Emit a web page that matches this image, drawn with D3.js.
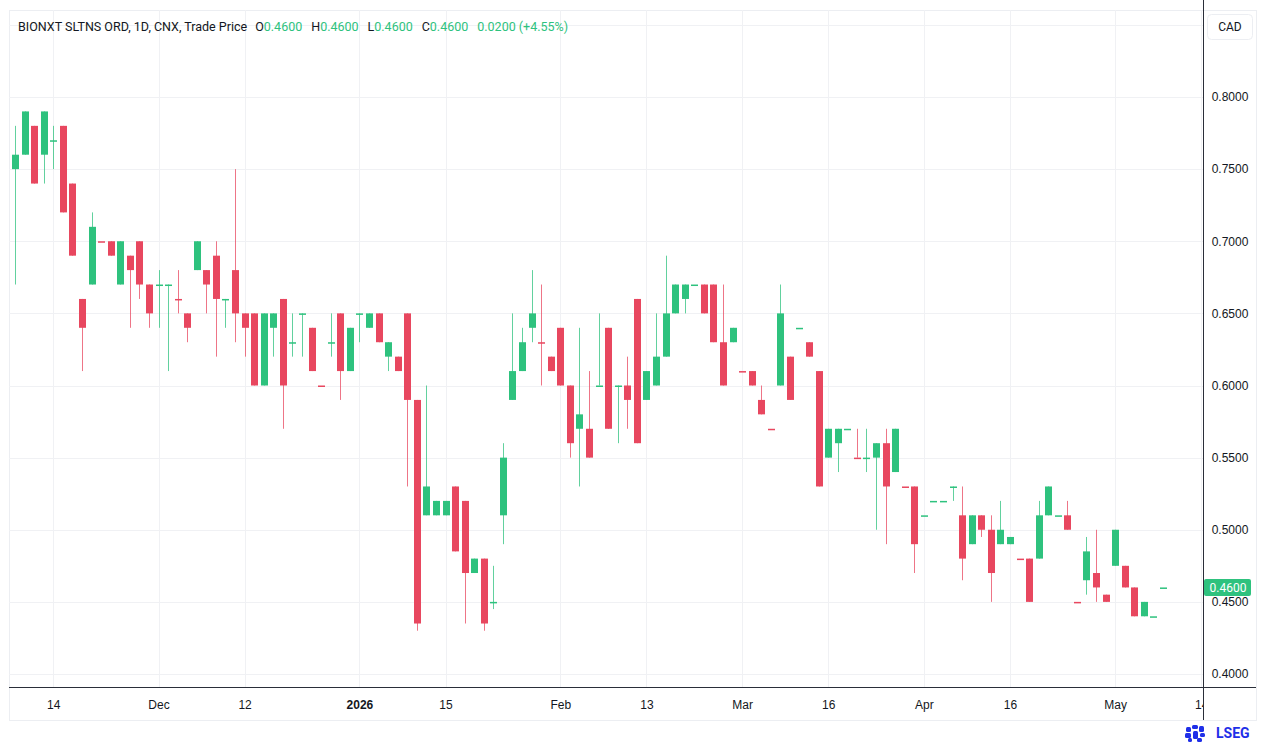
<!DOCTYPE html>
<html>
<head>
<meta charset="utf-8">
<script src="https://cdn.jsdelivr.net/npm/d3@7"></script>
<style>
  body { margin: 0; background: #fff; }
  svg { font-family: Roboto, "Noto Sans", sans-serif; }
</style>
</head>
<body>
<svg id="chart" width="1266" height="744"></svg>
<script>
// daily bars, BIONXT SLTNS ORD (CNX), 10 Nov 2025 .. 11 May 2026 (one entry per trading bar)
let opens = [
	0.75, 0.76, 0.78, 0.76, 0.77, 0.78, 0.74, 0.66, 0.67, 0.70,
	0.70, 0.67, 0.69, 0.70, 0.67, 0.67, 0.67, 0.66, 0.65, 0.68,
	0.68, 0.69, 0.66, 0.68, 0.65, 0.65, 0.60, 0.64, 0.66, 0.63,
	0.65, 0.64, 0.60, 0.63, 0.65, 0.61, 0.65, 0.64, 0.65, 0.62,
	0.62, 0.65, 0.59, 0.51, 0.51, 0.51, 0.53, 0.52, 0.47, 0.48,
	0.45, 0.51, 0.59, 0.61, 0.64, 0.63, 0.62, 0.64, 0.60, 0.57,
	0.57, 0.60, 0.64, 0.60, 0.60, 0.66, 0.59, 0.60, 0.62, 0.65,
	0.66, 0.67, 0.67, 0.67, 0.63, 0.63, 0.61, 0.61, 0.59, 0.57,
	0.60, 0.62, 0.64, 0.63, 0.61, 0.55, 0.56, 0.57, 0.55, 0.55,
	0.55, 0.56, 0.54, 0.53, 0.53, 0.51, 0.52, 0.52, 0.53, 0.51,
	0.49, 0.51, 0.50, 0.49, 0.49, 0.48, 0.48, 0.48, 0.51, 0.51,
	0.51, 0.45, 0.465, 0.47, 0.455, 0.475, 0.475, 0.46, 0.44, 0.44,
	0.46
];
let highs = [
	0.78, 0.79, 0.78, 0.79, 0.78, 0.78, 0.74, 0.66, 0.72, 0.70,
	0.70, 0.70, 0.69, 0.70, 0.67, 0.68, 0.67, 0.68, 0.65, 0.70,
	0.68, 0.70, 0.66, 0.75, 0.65, 0.65, 0.65, 0.65, 0.66, 0.65,
	0.65, 0.64, 0.60, 0.65, 0.65, 0.64, 0.65, 0.65, 0.65, 0.63,
	0.62, 0.65, 0.59, 0.60, 0.52, 0.52, 0.53, 0.52, 0.48, 0.48,
	0.475, 0.56, 0.65, 0.64, 0.68, 0.67, 0.62, 0.64, 0.60, 0.64,
	0.61, 0.65, 0.64, 0.60, 0.62, 0.66, 0.61, 0.65, 0.69, 0.67,
	0.67, 0.67, 0.67, 0.67, 0.67, 0.64, 0.61, 0.61, 0.60, 0.57,
	0.67, 0.62, 0.64, 0.63, 0.61, 0.57, 0.57, 0.57, 0.57, 0.57,
	0.56, 0.57, 0.57, 0.53, 0.53, 0.51, 0.52, 0.52, 0.53, 0.53,
	0.51, 0.51, 0.51, 0.52, 0.495, 0.48, 0.48, 0.52, 0.53, 0.51,
	0.52, 0.45, 0.495, 0.50, 0.455, 0.50, 0.475, 0.46, 0.45, 0.44,
	0.46
];
let lows = [
	0.67, 0.76, 0.74, 0.74, 0.75, 0.72, 0.69, 0.61, 0.67, 0.70,
	0.69, 0.67, 0.64, 0.66, 0.64, 0.64, 0.61, 0.65, 0.63, 0.68,
	0.65, 0.62, 0.64, 0.63, 0.62, 0.60, 0.60, 0.62, 0.57, 0.62,
	0.62, 0.61, 0.60, 0.62, 0.59, 0.61, 0.63, 0.64, 0.63, 0.61,
	0.61, 0.53, 0.43, 0.51, 0.51, 0.51, 0.485, 0.435, 0.47, 0.43,
	0.445, 0.49, 0.59, 0.61, 0.63, 0.60, 0.61, 0.60, 0.55, 0.53,
	0.55, 0.60, 0.57, 0.56, 0.57, 0.56, 0.59, 0.60, 0.62, 0.65,
	0.65, 0.67, 0.65, 0.63, 0.60, 0.63, 0.61, 0.60, 0.58, 0.57,
	0.60, 0.59, 0.64, 0.62, 0.53, 0.55, 0.54, 0.57, 0.55, 0.54,
	0.50, 0.49, 0.54, 0.53, 0.47, 0.51, 0.52, 0.52, 0.52, 0.465,
	0.49, 0.495, 0.45, 0.49, 0.49, 0.48, 0.45, 0.48, 0.51, 0.51,
	0.50, 0.45, 0.455, 0.45, 0.45, 0.475, 0.46, 0.44, 0.44, 0.44,
	0.46
];
let closes = [
	0.76, 0.79, 0.74, 0.79, 0.77, 0.72, 0.69, 0.64, 0.71, 0.70,
	0.69, 0.70, 0.68, 0.67, 0.65, 0.67, 0.67, 0.66, 0.64, 0.70,
	0.67, 0.66, 0.66, 0.65, 0.64, 0.60, 0.65, 0.65, 0.60, 0.63,
	0.65, 0.61, 0.60, 0.63, 0.61, 0.64, 0.65, 0.65, 0.63, 0.63,
	0.61, 0.59, 0.435, 0.53, 0.52, 0.52, 0.485, 0.47, 0.48, 0.435,
	0.45, 0.55, 0.61, 0.63, 0.65, 0.63, 0.61, 0.60, 0.56, 0.58,
	0.55, 0.60, 0.57, 0.60, 0.59, 0.56, 0.61, 0.62, 0.65, 0.67,
	0.67, 0.67, 0.65, 0.63, 0.60, 0.64, 0.61, 0.60, 0.58, 0.57,
	0.65, 0.59, 0.64, 0.62, 0.53, 0.57, 0.57, 0.57, 0.55, 0.55,
	0.56, 0.53, 0.57, 0.53, 0.49, 0.51, 0.52, 0.52, 0.53, 0.48,
	0.51, 0.50, 0.47, 0.50, 0.495, 0.48, 0.45, 0.51, 0.53, 0.51,
	0.50, 0.45, 0.485, 0.46, 0.45, 0.50, 0.46, 0.44, 0.45, 0.44,
	0.46
];
// bars where open == close but the chart paints them green
let flatUp = [4, 15, 16, 22, 29, 30, 33, 36, 50, 61, 63, 71, 82, 87, 89, 95, 96, 97, 98, 109, 119, 120];

// time axis: bar index -> label
let tickBars = [4, 15, 24, 36, 45, 57, 66, 76, 85, 95, 104, 115, 124];
let tickLabels = ["14", "Dec", "12", "2026", "15", "Feb", "13", "Mar", "16", "Apr", "16", "May", "14"];
let priceTicks = [0.40, 0.45, 0.50, 0.55, 0.60, 0.65, 0.70, 0.75, 0.80];
let gridPrices = [0.40, 0.45, 0.50, 0.55, 0.60, 0.65, 0.70, 0.75, 0.80, 0.85];

let title = "BIONXT SLTNS ORD, 1D, CNX, Trade Price";
let lastBar = {o: 0.46, h: 0.46, l: 0.46, c: 0.46, chg: "0.0200", pct: "+4.55%"};

let data = opens.map(function(o, i) {
	return {i: i, open: o, high: highs[i], low: lows[i], close: closes[i]};
});

// layout
let plot = {left: 9, top: 10, right: 1203, bottom: 687};
let up = "#2ec27e", down = "#e8475f", ink = "#131722", grid = "#f0f1f4";

let xScale = d3.scaleLinear().domain([0, 120]).range([15, 1163]);
let yScale = d3.scaleLinear().domain([0.40, 0.80]).range([674, 97]);
let bodyW = 7;

let svg = d3.select("#chart");
let defs = svg.append("defs");

defs.append("clipPath").attr("id", "plotclip")
	.append("rect")
	.attr("x", plot.left).attr("y", plot.top)
	.attr("width", plot.right - plot.left).attr("height", plot.bottom - plot.top);
defs.append("clipPath").attr("id", "xclip")
	.append("rect").attr("x", plot.left).attr("y", 0)
	.attr("width", plot.right - plot.left).attr("height", 40);

// panel frame
svg.append("rect")
	.attr("x", plot.left + 0.5).attr("y", plot.top + 0.5)
	.attr("width", 1256 - plot.left).attr("height", 720 - plot.top)
	.attr("fill", "none").attr("stroke", "#eceef2");

// grid
svg.append("g").selectAll("line").data(gridPrices).join("line")
	.attr("x1", plot.left).attr("x2", plot.right)
	.attr("y1", d => Math.round(yScale(d)) + 0.5).attr("y2", d => Math.round(yScale(d)) + 0.5)
	.attr("stroke", grid);

svg.append("g").selectAll("line").data(tickBars.filter(d => xScale(d) < plot.right)).join("line")
	.attr("x1", d => Math.round(xScale(d)) + 0.5).attr("x2", d => Math.round(xScale(d)) + 0.5)
	.attr("y1", plot.top).attr("y2", plot.bottom)
	.attr("stroke", grid);

// candles
function isUp(d) {
	if (d.close === d.open) return flatUp.indexOf(d.i) >= 0;
	return d.close > d.open;
}

let candles = svg.append("g").attr("clip-path", "url(#plotclip)")
	.selectAll("g").data(data).join("g");

candles.append("line")
	.attr("x1", d => Math.round(xScale(d.i)) + 0.5)
	.attr("x2", d => Math.round(xScale(d.i)) + 0.5)
	.attr("y1", d => yScale(d.high))
	.attr("y2", d => yScale(d.low))
	.attr("stroke", d => isUp(d) ? up : down)
	.attr("stroke-opacity", 0.75)
	.attr("stroke-width", 1);

candles.append("rect")
	.attr("x", d => Math.round(xScale(d.i)) - 3)
	.attr("width", bodyW)
	.attr("y", d => Math.min(yScale(d.open), yScale(d.close)))
	.attr("height", d => Math.max(1.5, Math.abs(yScale(d.open) - yScale(d.close))))
	.attr("fill", d => isUp(d) ? up : down);

// bottom axis
let xAxis = d3.axisBottom(xScale)
	.tickValues(tickBars)
	.tickFormat((d, i) => tickLabels[i])
	.tickSize(0);

let xAxisEl = svg.append("g")
	.attr("transform", "translate(0," + plot.bottom + ")")
	.attr("clip-path", "url(#xclip)")
	.call(xAxis);
xAxisEl.select(".domain").remove();
xAxisEl.selectAll("text")
	.attr("y", 18).attr("dy", "0.35em")
	.attr("fill", ink)
	.style("font-size", "12px")
	.style("font-weight", (d, i) => tickLabels[i] === "2026" ? "bold" : "normal");

// right price axis
let yAxis = d3.axisRight(yScale)
	.tickValues(priceTicks)
	.tickFormat(d3.format(".4f"))
	.tickSize(0);

let yAxisEl = svg.append("g")
	.attr("transform", "translate(" + plot.right + ",0)")
	.call(yAxis);
yAxisEl.select(".domain").remove();
yAxisEl.selectAll("text")
	.attr("x", 27).attr("text-anchor", "middle")
	.attr("fill", ink)
	.style("font-size", "12px");

// axis lines
svg.append("line")
	.attr("x1", plot.left).attr("x2", 1256)
	.attr("y1", plot.bottom + 0.5).attr("y2", plot.bottom + 0.5)
	.attr("stroke", "#2a2e39");
svg.append("line")
	.attr("x1", plot.right + 0.5).attr("x2", plot.right + 0.5)
	.attr("y1", 0).attr("y2", 720)
	.attr("stroke", "#2a2e39");

// currency badge
svg.append("rect")
	.attr("x", 1207.5).attr("y", 14.5).attr("width", 45).attr("height", 25).attr("rx", 4)
	.attr("fill", "#fff").attr("stroke", "#eceef2");
svg.append("text")
	.attr("x", 1230).attr("y", 27).attr("dy", "0.35em")
	.attr("text-anchor", "middle").attr("fill", ink)
	.style("font-size", "12px").text("CAD");

// last price label
let lastY = yScale(lastBar.c);
svg.append("rect")
	.attr("x", plot.right + 1).attr("y", lastY - 8.5).attr("width", 47).attr("height", 17).attr("rx", 2)
	.attr("fill", up);
svg.append("text")
	.attr("x", plot.right + 25).attr("y", lastY).attr("dy", "0.35em")
	.attr("text-anchor", "middle").attr("fill", "#fff")
	.style("font-size", "12px").text(d3.format(".4f")(lastBar.c));

// legend line
let fmt = d3.format(".4f");
let legend = svg.append("text")
	.attr("x", 18).attr("y", 27).attr("dy", "0.35em")
	.style("font-size", "12.5px").style("white-space", "pre")
	.attr("fill", ink);
legend.append("tspan").text(title);
[["O", lastBar.o], ["H", lastBar.h], ["L", lastBar.l], ["C", lastBar.c]].forEach(function(p, k) {
	legend.append("tspan").attr("dx", k === 0 ? 8 : 9).attr("fill", ink).text(p[0]);
	legend.append("tspan").attr("fill", up).text(fmt(p[1]));
});
legend.append("tspan").attr("dx", 9).attr("fill", up).text(lastBar.chg + " (" + lastBar.pct + ")");

// LSEG mark
let logo = svg.append("g").attr("transform", "translate(1184,724)").attr("fill", "#1f2fe8");
[[2, 3, 5, 5], [8, 1, 6, 4], [15, 2, 5, 6], [1, 9, 6, 5], [9, 7, 5, 8], [16, 9, 5, 4], [4, 14, 4, 4], [13, 14, 5, 4]]
	.forEach(function(r) {
		logo.append("rect").attr("x", r[0]).attr("y", r[1]).attr("width", r[2]).attr("height", r[3]).attr("rx", 1.5);
	});
svg.append("text")
	.attr("x", 1216).attr("y", 733).attr("dy", "0.35em")
	.attr("fill", "#1f2fe8")
	.style("font-size", "14px").style("font-weight", "bold")
	.text("LSEG");
</script>
</body>
</html>
